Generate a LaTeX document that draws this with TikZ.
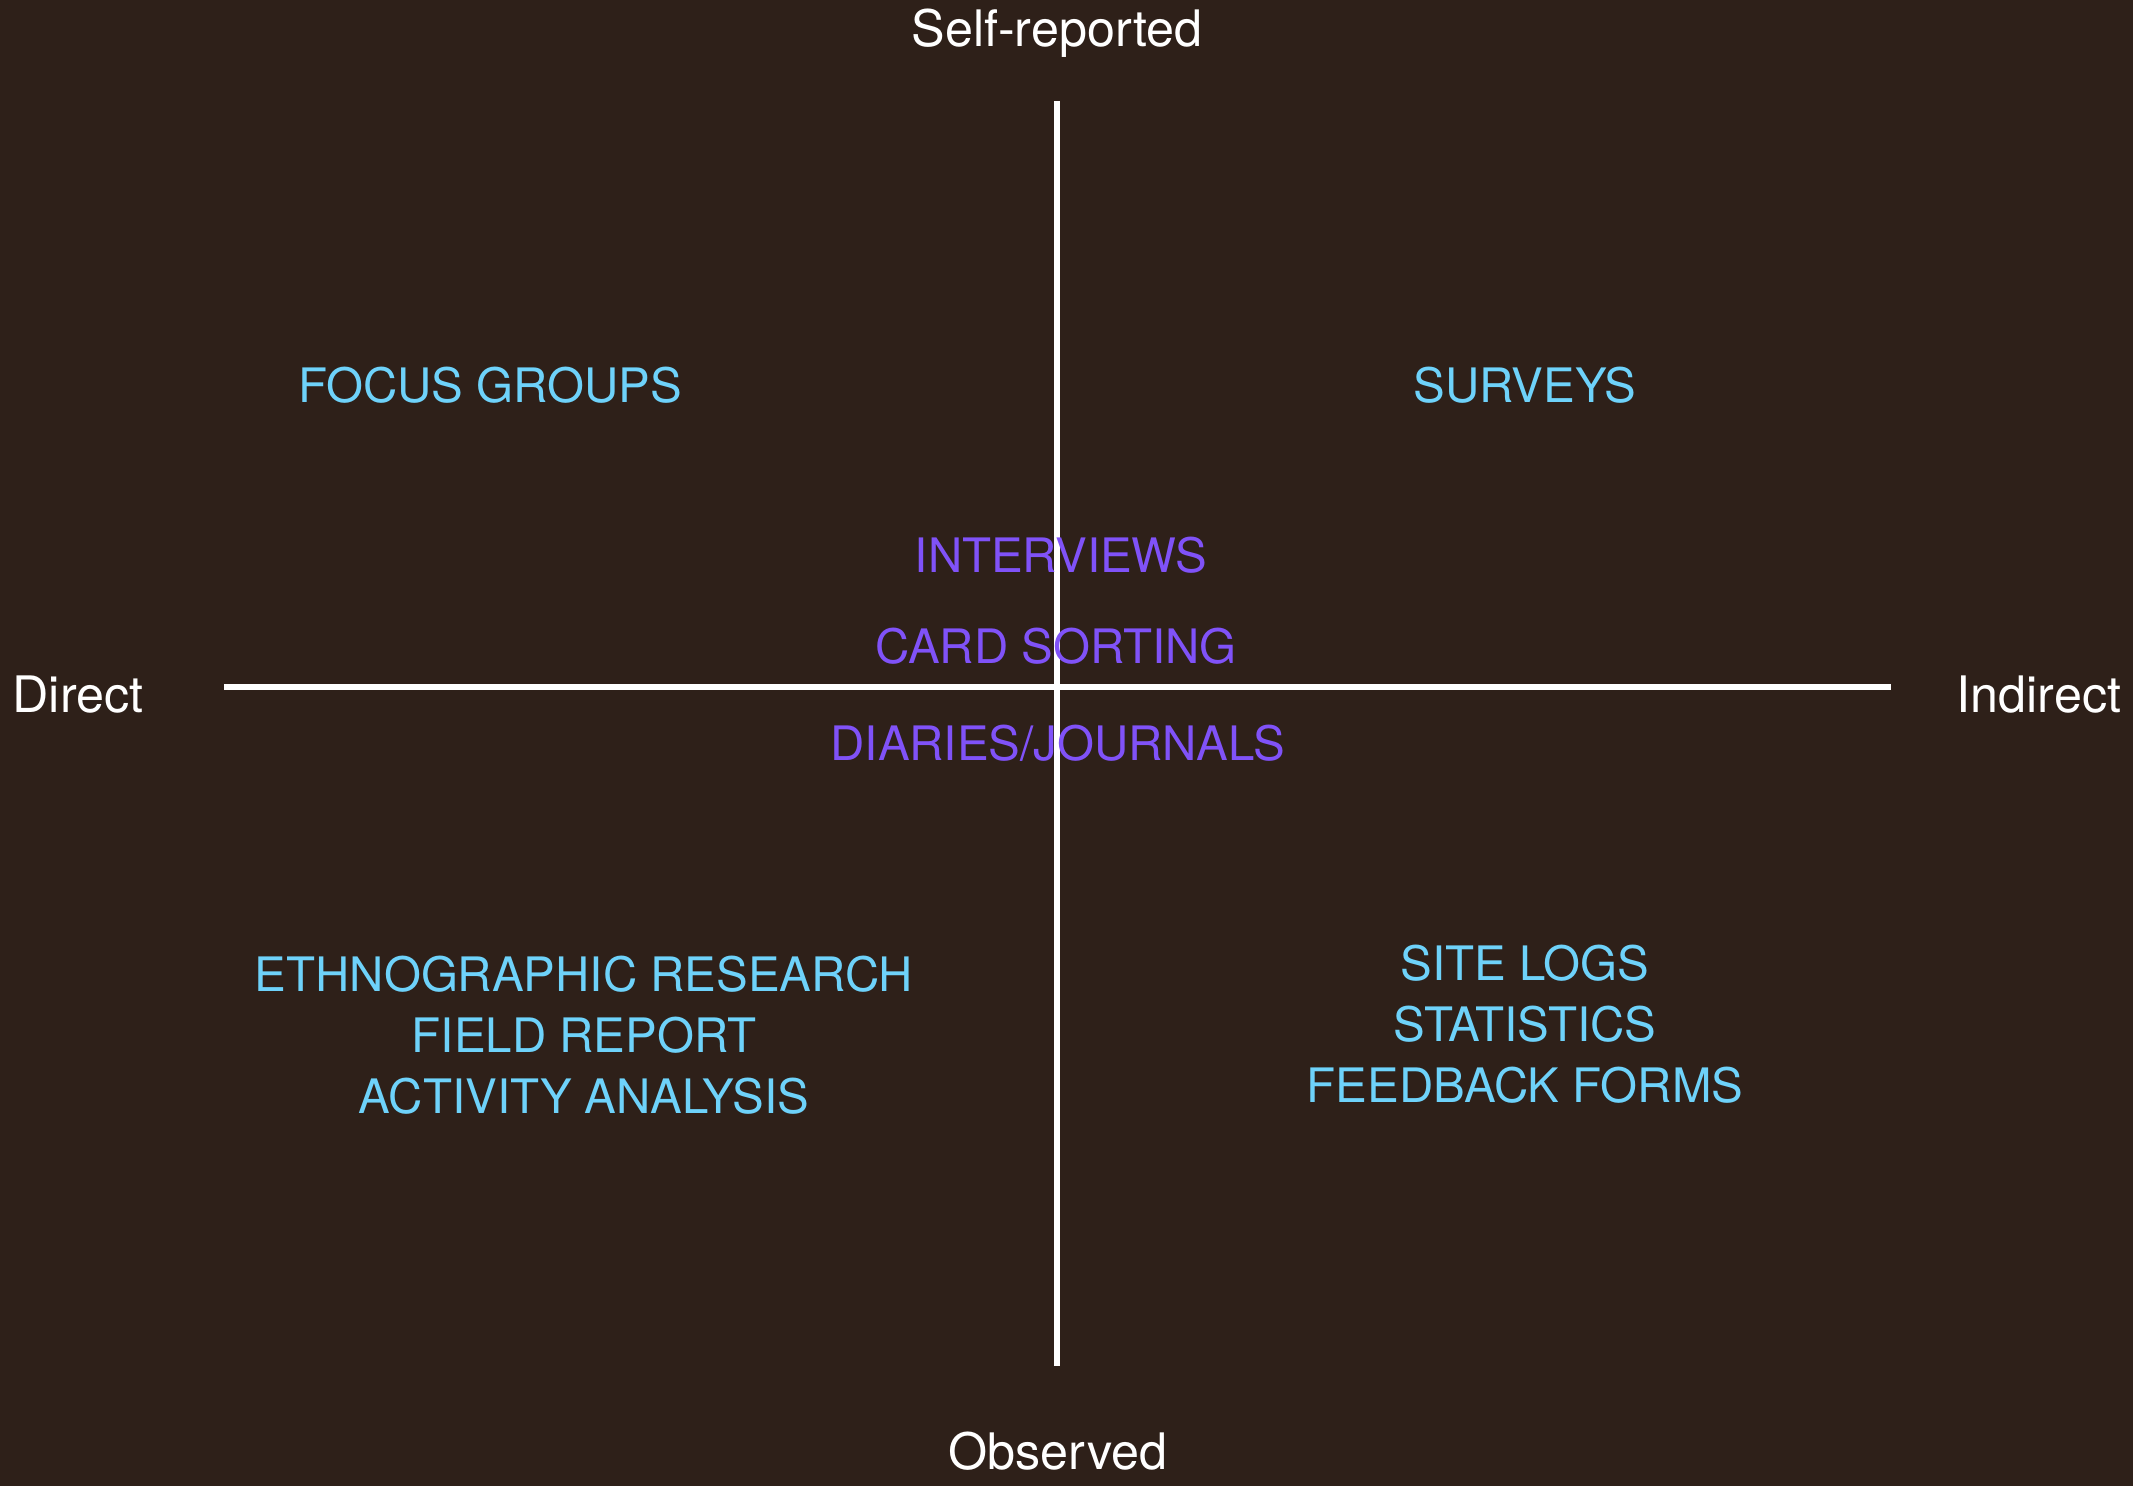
\documentclass[tikz,border=0pt]{standalone}
\usepackage{fontspec}
\setmainfont{TeX Gyre Heros}
\usetikzlibrary{positioning}
\definecolor{bgbrown}{RGB}{46,32,25}
\definecolor{methodcyan}{RGB}{110,210,250}
\definecolor{methodpurple}{RGB}{128,82,248}
\tikzset{
  axislabel/.style={text=white, font=\fontsize{14.3}{17}\selectfont},
  method/.style={text=methodcyan, align=center, font=\fontsize{13.5}{17.4}\selectfont},
  mixed/.style={text=methodpurple, font=\fontsize{13.5}{17.4}\selectfont},
  axisline/.style={draw=white, line width=1.6pt}
}
\begin{document}
\begin{tikzpicture}[x=0.01cm,y=-0.01cm]
    \fill[bgbrown] (0,0) rectangle (2133,1486);
    \useasboundingbox (0,0) rectangle (2133,1486);

    % axes
    \coordinate (top) at (1057,101);
    \coordinate (bottom) at (1057,1366);
    \coordinate (left) at (224,687);
    \coordinate (right) at (1891,687);
    \draw[axisline] (left) -- (right);
    \draw[axisline] (top) -- (bottom);

    % axis labels
    \node[axislabel] (selfrep) at (1057,33) {Self-reported};
    \node[axislabel] (observed) at (1058,1451) {Observed};
    \node[axislabel] (direct) at (78,695) {Direct};
    \node[axislabel] (indirect) at (2039,695) {Indirect};

    % quadrants
    \node[method] (focus) at (490,385) {FOCUS GROUPS};
    \node[method] (surveys) at (1525,385) {SURVEYS};
    \node[method] (ethno) at (584,1035) {ETHNOGRAPHIC RESEARCH\\FIELD REPORT\\ACTIVITY ANALYSIS};
    \node[method] (logs) at (1525,1024) {SITE LOGS\\STATISTICS\\FEEDBACK FORMS};

    % on the axes
    \node[mixed] (interviews) at (1061,555) {INTERVIEWS};
    \node[mixed] (cards) at (1056,646) {CARD SORTING};
    \node[mixed] (diaries) at (1058,743) {DIARIES/JOURNALS};
\end{tikzpicture}
\end{document}
